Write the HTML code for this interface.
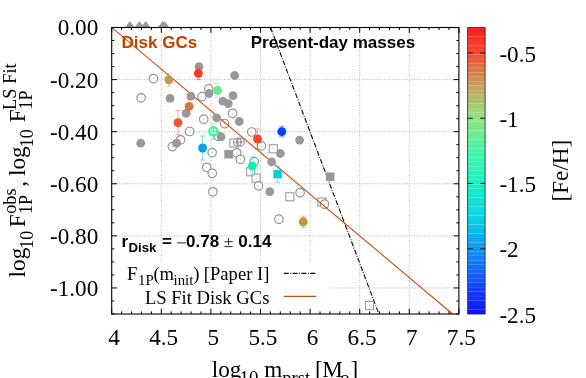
<!DOCTYPE html>
<html><head><meta charset="utf-8"><title>plot</title>
<style>html,body{margin:0;padding:0;background:#fff;overflow:hidden}svg{display:block;will-change:transform}</style>
</head><body>
<svg width="586" height="378" viewBox="0 0 586 378">
<rect x="0" y="0" width="586" height="378" fill="#ffffff"/>
<path d="M161.30 27.5 V314.0 M210.90 27.5 V314.0 M260.50 27.5 V314.0 M310.10 27.5 V314.0 M359.70 27.5 V314.0 M409.30 27.5 V314.0 M111.7 79.59 H458.9 M111.7 131.68 H458.9 M111.7 183.77 H458.9 M111.7 235.86 H458.9 M111.7 287.95 H458.9" stroke="#a6a6a6" stroke-width="0.9" stroke-dasharray="0.9 1.6" fill="none"/>
<rect x="112.3" y="262.4" width="217.1" height="51.1" fill="#fff"/>
<path d="M270.6 27.5 L378.9 314.0" stroke="#111" stroke-width="1.15" stroke-dasharray="5 1.5 0.9 1.4" fill="none"/>
<rect x="224.3" y="149.9" width="8.6" height="8.6" fill="#999999"/>
<rect x="325.8" y="172.4" width="8.6" height="8.6" fill="#999999"/>
<rect x="229.85" y="139.05" width="8.1" height="8.1" fill="#fff" stroke="#939393" stroke-width="1.0"/>
<circle cx="233.9" cy="143.1" r="0.5" fill="#999"/>
<rect x="269.25" y="144.75" width="8.1" height="8.1" fill="#fff" stroke="#939393" stroke-width="1.0"/>
<circle cx="273.3" cy="148.8" r="0.5" fill="#999"/>
<rect x="246.65" y="167.75" width="8.1" height="8.1" fill="#fff" stroke="#939393" stroke-width="1.0"/>
<circle cx="250.7" cy="171.8" r="0.5" fill="#999"/>
<rect x="252.05" y="174.15" width="8.1" height="8.1" fill="#fff" stroke="#939393" stroke-width="1.0"/>
<circle cx="256.1" cy="178.2" r="0.5" fill="#999"/>
<rect x="285.85" y="192.75" width="8.1" height="8.1" fill="#fff" stroke="#939393" stroke-width="1.0"/>
<circle cx="289.9" cy="196.8" r="0.5" fill="#999"/>
<rect x="317.85" y="197.95" width="8.1" height="8.1" fill="#fff" stroke="#939393" stroke-width="1.0"/>
<circle cx="321.9" cy="202.0" r="0.5" fill="#999"/>
<rect x="365.35" y="301.55" width="8.1" height="8.1" fill="#fff" stroke="#939393" stroke-width="1.0"/>
<circle cx="369.4" cy="305.6" r="0.5" fill="#999"/>
<circle cx="153.4" cy="78.6" r="4.25" fill="#fff" stroke="#939393" stroke-width="1.2"/>
<circle cx="153.4" cy="78.6" r="0.5" fill="#999"/>
<circle cx="141.1" cy="97.8" r="4.25" fill="#fff" stroke="#939393" stroke-width="1.2"/>
<circle cx="141.1" cy="97.8" r="0.5" fill="#999"/>
<circle cx="202.0" cy="96.6" r="4.25" fill="#fff" stroke="#939393" stroke-width="1.2"/>
<circle cx="202.0" cy="96.6" r="0.5" fill="#999"/>
<circle cx="203.7" cy="119.2" r="4.25" fill="#fff" stroke="#939393" stroke-width="1.2"/>
<circle cx="203.7" cy="119.2" r="0.5" fill="#999"/>
<circle cx="189.7" cy="131.5" r="4.25" fill="#fff" stroke="#939393" stroke-width="1.2"/>
<circle cx="189.7" cy="131.5" r="0.5" fill="#999"/>
<circle cx="208.7" cy="88.9" r="4.25" fill="#fff" stroke="#939393" stroke-width="1.2"/>
<circle cx="208.7" cy="88.9" r="0.5" fill="#999"/>
<circle cx="232.6" cy="113.3" r="4.25" fill="#fff" stroke="#939393" stroke-width="1.2"/>
<circle cx="232.6" cy="113.3" r="0.5" fill="#999"/>
<circle cx="224.6" cy="123.7" r="4.25" fill="#fff" stroke="#939393" stroke-width="1.2"/>
<circle cx="224.6" cy="123.7" r="0.5" fill="#999"/>
<circle cx="180.6" cy="139.8" r="4.25" fill="#fff" stroke="#939393" stroke-width="1.2"/>
<circle cx="180.6" cy="139.8" r="0.5" fill="#999"/>
<circle cx="172.4" cy="146.6" r="4.25" fill="#fff" stroke="#939393" stroke-width="1.2"/>
<circle cx="172.4" cy="146.6" r="0.5" fill="#999"/>
<circle cx="218.2" cy="136.3" r="4.25" fill="#fff" stroke="#939393" stroke-width="1.2"/>
<circle cx="218.2" cy="136.3" r="0.5" fill="#999"/>
<circle cx="251.7" cy="132.0" r="4.25" fill="#fff" stroke="#939393" stroke-width="1.2"/>
<circle cx="251.7" cy="132.0" r="0.5" fill="#999"/>
<circle cx="261.4" cy="145.9" r="4.25" fill="#fff" stroke="#939393" stroke-width="1.2"/>
<circle cx="261.4" cy="145.9" r="0.5" fill="#999"/>
<circle cx="212.2" cy="152.6" r="4.25" fill="#fff" stroke="#939393" stroke-width="1.2"/>
<circle cx="212.2" cy="152.6" r="0.5" fill="#999"/>
<circle cx="236.7" cy="152.8" r="4.25" fill="#fff" stroke="#939393" stroke-width="1.2"/>
<circle cx="236.7" cy="152.8" r="0.5" fill="#999"/>
<circle cx="240.4" cy="159.3" r="4.25" fill="#fff" stroke="#939393" stroke-width="1.2"/>
<circle cx="240.4" cy="159.3" r="0.5" fill="#999"/>
<circle cx="254.2" cy="161.7" r="4.25" fill="#fff" stroke="#939393" stroke-width="1.2"/>
<circle cx="254.2" cy="161.7" r="0.5" fill="#999"/>
<circle cx="206.7" cy="167.3" r="4.25" fill="#fff" stroke="#939393" stroke-width="1.2"/>
<circle cx="206.7" cy="167.3" r="0.5" fill="#999"/>
<circle cx="212.3" cy="173.3" r="4.25" fill="#fff" stroke="#939393" stroke-width="1.2"/>
<circle cx="212.3" cy="173.3" r="0.5" fill="#999"/>
<circle cx="258.6" cy="185.8" r="4.25" fill="#fff" stroke="#939393" stroke-width="1.2"/>
<circle cx="258.6" cy="185.8" r="0.5" fill="#999"/>
<circle cx="212.9" cy="191.8" r="4.25" fill="#fff" stroke="#939393" stroke-width="1.2"/>
<circle cx="212.9" cy="191.8" r="0.5" fill="#999"/>
<circle cx="300.1" cy="192.7" r="4.25" fill="#fff" stroke="#939393" stroke-width="1.2"/>
<circle cx="300.1" cy="192.7" r="0.5" fill="#999"/>
<circle cx="324.5" cy="204.2" r="4.25" fill="#fff" stroke="#939393" stroke-width="1.2"/>
<circle cx="324.5" cy="204.2" r="0.5" fill="#999"/>
<circle cx="278.9" cy="219.2" r="4.25" fill="#fff" stroke="#939393" stroke-width="1.2"/>
<circle cx="278.9" cy="219.2" r="0.5" fill="#999"/>
<circle cx="237.4" cy="142.1" r="4.0" fill="none" stroke="#999999" stroke-width="1.1"/>
<circle cx="240.4" cy="142.1" r="4.0" fill="none" stroke="#999999" stroke-width="1.1"/>
<path d="M233.2 142.1 H244.6 M237.4 138 V146.2 M240.4 138 V146.2" stroke="#999999" stroke-width="0.9"/>
<path d="M112.0 27.7 L452.6 314.0" stroke="#c8500f" stroke-width="1.1" fill="none"/>
<circle cx="199.0" cy="66.7" r="4.4" fill="#999999"/>
<circle cx="170.1" cy="98.4" r="4.4" fill="#999999"/>
<circle cx="190.9" cy="96.1" r="4.4" fill="#999999"/>
<circle cx="186.1" cy="113.3" r="4.4" fill="#999999"/>
<circle cx="234.7" cy="75.5" r="4.4" fill="#999999"/>
<circle cx="209.1" cy="93.5" r="4.4" fill="#999999"/>
<circle cx="233.0" cy="95.7" r="4.4" fill="#999999"/>
<circle cx="222.8" cy="101.2" r="4.4" fill="#999999"/>
<circle cx="228.2" cy="103.6" r="4.4" fill="#999999"/>
<circle cx="216.7" cy="117.8" r="4.4" fill="#999999"/>
<circle cx="239.3" cy="121.5" r="4.4" fill="#999999"/>
<circle cx="140.7" cy="143.2" r="4.4" fill="#999999"/>
<circle cx="176.6" cy="143.2" r="4.4" fill="#999999"/>
<circle cx="221.1" cy="136.8" r="4.4" fill="#999999"/>
<circle cx="280.4" cy="153.5" r="4.4" fill="#999999"/>
<circle cx="271.6" cy="161.8" r="4.4" fill="#999999"/>
<circle cx="269.8" cy="191.7" r="4.4" fill="#999999"/>
<circle cx="299.6" cy="140.1" r="4.4" fill="#999999"/>
<path d="M125.0 27.5 L129.9 20.9 L134.8 27.5 Z" fill="#999999"/>
<path d="M134.5 27.5 L139.4 20.9 L144.3 27.5 Z" fill="#999999"/>
<path d="M140.8 27.5 L145.7 20.9 L150.6 27.5 Z" fill="#999999"/>
<path d="M157.7 27.5 L162.6 20.9 L167.5 27.5 Z" fill="#999999"/>
<path d="M159.7 27.5 L164.6 20.9 L169.5 27.5 Z" fill="#999999"/>
<path d="M168.9 73.5 V86.1 M166.20000000000002 73.5 H171.6 M166.20000000000002 86.1 H171.6" stroke="#c2994f" stroke-width="0.9" fill="none" opacity="0.55"/>
<circle cx="168.9" cy="79.8" r="4.45" fill="#c2994f"/>
<path d="M198.3 67.0 V79.6 M195.60000000000002 67.0 H201.0 M195.60000000000002 79.6 H201.0" stroke="#ff3a22" stroke-width="0.9" fill="none" opacity="0.55"/>
<circle cx="198.3" cy="73.3" r="4.45" fill="#ff3a22"/>
<path d="M217.5 83.4 V97.4 M214.8 83.4 H220.2 M214.8 97.4 H220.2" stroke="#66ea86" stroke-width="0.9" fill="none" opacity="0.55"/>
<circle cx="217.5" cy="90.4" r="4.45" fill="#66ea86"/>
<path d="M189.2 98.9 V113.9 M186.5 98.9 H191.89999999999998 M186.5 113.9 H191.89999999999998" stroke="#d9783c" stroke-width="0.9" fill="none" opacity="0.55"/>
<circle cx="189.2" cy="106.4" r="4.45" fill="#d9783c"/>
<path d="M178.0 110.7 V134.7 M175.3 110.7 H180.7 M175.3 134.7 H180.7" stroke="#f0562e" stroke-width="0.9" fill="none" opacity="0.55"/>
<circle cx="178.0" cy="122.7" r="4.45" fill="#f0562e"/>
<path d="M213.4 123.30000000000001 V139.3 M210.70000000000002 123.30000000000001 H216.1 M210.70000000000002 139.3 H216.1" stroke="#3df5a4" stroke-width="0.9" fill="none" opacity="0.55"/>
<circle cx="213.4" cy="131.3" r="4.2" fill="#d4fbe8" stroke="#3df5a4" stroke-width="2.3"/>
<path d="M209.0 131.3 H217.8 M213.4 126.9 V135.70000000000002" stroke="#3df5a4" stroke-width="1.0"/>
<path d="M202.6 136.0 V160.0 M199.9 136.0 H205.29999999999998 M199.9 160.0 H205.29999999999998" stroke="#04a3ee" stroke-width="0.9" fill="none" opacity="0.55"/>
<circle cx="202.6" cy="148.0" r="4.45" fill="#04a3ee"/>
<path d="M257.5 129.0 V149.0 M254.8 129.0 H260.2 M254.8 149.0 H260.2" stroke="#ff4422" stroke-width="0.9" fill="none" opacity="0.55"/>
<circle cx="257.5" cy="139.0" r="4.45" fill="#ff4422"/>
<path d="M281.8 126.3 V136.9 M279.1 126.3 H284.5 M279.1 136.9 H284.5" stroke="#0540ff" stroke-width="0.9" fill="none" opacity="0.55"/>
<circle cx="281.8" cy="131.6" r="4.45" fill="#0540ff"/>
<path d="M252.3 156.9 V175.29999999999998 M249.60000000000002 156.9 H255.0 M249.60000000000002 175.29999999999998 H255.0" stroke="#0df0c2" stroke-width="0.9" fill="none" opacity="0.55"/>
<circle cx="252.3" cy="166.1" r="4.45" fill="#0df0c2"/>
<path d="M277.6 166.0 V182.2 M274.90000000000003 166.0 H280.3 M274.90000000000003 182.2 H280.3" stroke="#06d0de" stroke-width="0.9" fill="none" opacity="0.55"/>
<rect x="273.3" y="169.79999999999998" width="8.6" height="8.6" fill="#06d0de"/>
<path d="M303.2 216.20000000000002 V227.4 M300.5 216.20000000000002 H305.9 M300.5 227.4 H305.9" stroke="#c2943f" stroke-width="0.9" fill="none" opacity="0.55"/>
<circle cx="303.2" cy="221.8" r="4.45" fill="#c2943f"/>
<rect x="111.7" y="27.5" width="347.2" height="286.5" fill="none" stroke="#000" stroke-width="1.1"/>
<path d="M111.70 314.0 v-5.3 M111.70 27.5 v5.3 M121.62 314.0 v-2.6 M121.62 27.5 v2.6 M131.54 314.0 v-2.6 M131.54 27.5 v2.6 M141.46 314.0 v-2.6 M141.46 27.5 v2.6 M151.38 314.0 v-2.6 M151.38 27.5 v2.6 M161.30 314.0 v-5.3 M161.30 27.5 v5.3 M171.22 314.0 v-2.6 M171.22 27.5 v2.6 M181.14 314.0 v-2.6 M181.14 27.5 v2.6 M191.06 314.0 v-2.6 M191.06 27.5 v2.6 M200.98 314.0 v-2.6 M200.98 27.5 v2.6 M210.90 314.0 v-5.3 M210.90 27.5 v5.3 M220.82 314.0 v-2.6 M220.82 27.5 v2.6 M230.74 314.0 v-2.6 M230.74 27.5 v2.6 M240.66 314.0 v-2.6 M240.66 27.5 v2.6 M250.58 314.0 v-2.6 M250.58 27.5 v2.6 M260.50 314.0 v-5.3 M260.50 27.5 v5.3 M270.42 314.0 v-2.6 M270.42 27.5 v2.6 M280.34 314.0 v-2.6 M280.34 27.5 v2.6 M290.26 314.0 v-2.6 M290.26 27.5 v2.6 M300.18 314.0 v-2.6 M300.18 27.5 v2.6 M310.10 314.0 v-5.3 M310.10 27.5 v5.3 M320.02 314.0 v-2.6 M320.02 27.5 v2.6 M329.94 314.0 v-2.6 M329.94 27.5 v2.6 M339.86 314.0 v-2.6 M339.86 27.5 v2.6 M349.78 314.0 v-2.6 M349.78 27.5 v2.6 M359.70 314.0 v-5.3 M359.70 27.5 v5.3 M369.62 314.0 v-2.6 M369.62 27.5 v2.6 M379.54 314.0 v-2.6 M379.54 27.5 v2.6 M389.46 314.0 v-2.6 M389.46 27.5 v2.6 M399.38 314.0 v-2.6 M399.38 27.5 v2.6 M409.30 314.0 v-5.3 M409.30 27.5 v5.3 M419.22 314.0 v-2.6 M419.22 27.5 v2.6 M429.14 314.0 v-2.6 M429.14 27.5 v2.6 M439.06 314.0 v-2.6 M439.06 27.5 v2.6 M448.98 314.0 v-2.6 M448.98 27.5 v2.6 M458.90 314.0 v-5.3 M458.90 27.5 v5.3 M111.7 27.50 h5.3 M458.9 27.50 h-5.3 M111.7 40.52 h2.6 M458.9 40.52 h-2.6 M111.7 53.55 h2.6 M458.9 53.55 h-2.6 M111.7 66.57 h2.6 M458.9 66.57 h-2.6 M111.7 79.59 h5.3 M458.9 79.59 h-5.3 M111.7 92.61 h2.6 M458.9 92.61 h-2.6 M111.7 105.64 h2.6 M458.9 105.64 h-2.6 M111.7 118.66 h2.6 M458.9 118.66 h-2.6 M111.7 131.68 h5.3 M458.9 131.68 h-5.3 M111.7 144.70 h2.6 M458.9 144.70 h-2.6 M111.7 157.73 h2.6 M458.9 157.73 h-2.6 M111.7 170.75 h2.6 M458.9 170.75 h-2.6 M111.7 183.77 h5.3 M458.9 183.77 h-5.3 M111.7 196.80 h2.6 M458.9 196.80 h-2.6 M111.7 209.82 h2.6 M458.9 209.82 h-2.6 M111.7 222.84 h2.6 M458.9 222.84 h-2.6 M111.7 235.86 h5.3 M458.9 235.86 h-5.3 M111.7 248.89 h2.6 M458.9 248.89 h-2.6 M111.7 261.91 h2.6 M458.9 261.91 h-2.6 M111.7 274.93 h2.6 M458.9 274.93 h-2.6 M111.7 287.95 h5.3 M458.9 287.95 h-5.3 M111.7 300.98 h2.6 M458.9 300.98 h-2.6 M111.7 314.00 h2.6 M458.9 314.00 h-2.6" stroke="#000" stroke-width="1.0" fill="none"/>
<rect x="467.7" y="309.52" width="17.4" height="4.53" fill="rgb(15,19,255)"/>
<rect x="467.7" y="305.05" width="17.4" height="4.53" fill="rgb(16,28,254)"/>
<rect x="467.7" y="300.57" width="17.4" height="4.53" fill="rgb(17,37,253)"/>
<rect x="467.7" y="296.09" width="17.4" height="4.53" fill="rgb(17,46,253)"/>
<rect x="467.7" y="291.62" width="17.4" height="4.53" fill="rgb(18,55,252)"/>
<rect x="467.7" y="287.14" width="17.4" height="4.53" fill="rgb(19,64,251)"/>
<rect x="467.7" y="282.66" width="17.4" height="4.53" fill="rgb(19,73,251)"/>
<rect x="467.7" y="278.19" width="17.4" height="4.53" fill="rgb(20,82,250)"/>
<rect x="467.7" y="273.71" width="17.4" height="4.53" fill="rgb(19,92,249)"/>
<rect x="467.7" y="269.23" width="17.4" height="4.53" fill="rgb(18,101,248)"/>
<rect x="467.7" y="264.76" width="17.4" height="4.53" fill="rgb(18,111,246)"/>
<rect x="467.7" y="260.28" width="17.4" height="4.53" fill="rgb(17,120,245)"/>
<rect x="467.7" y="255.80" width="17.4" height="4.53" fill="rgb(16,130,244)"/>
<rect x="467.7" y="251.33" width="17.4" height="4.53" fill="rgb(16,140,243)"/>
<rect x="467.7" y="246.85" width="17.4" height="4.53" fill="rgb(15,149,242)"/>
<rect x="467.7" y="242.38" width="17.4" height="4.53" fill="rgb(15,158,240)"/>
<rect x="467.7" y="237.90" width="17.4" height="4.53" fill="rgb(14,167,238)"/>
<rect x="467.7" y="233.42" width="17.4" height="4.53" fill="rgb(14,176,236)"/>
<rect x="467.7" y="228.95" width="17.4" height="4.53" fill="rgb(13,185,234)"/>
<rect x="467.7" y="224.47" width="17.4" height="4.53" fill="rgb(13,194,233)"/>
<rect x="467.7" y="219.99" width="17.4" height="4.53" fill="rgb(13,203,231)"/>
<rect x="467.7" y="215.52" width="17.4" height="4.53" fill="rgb(12,212,229)"/>
<rect x="467.7" y="211.04" width="17.4" height="4.53" fill="rgb(13,217,225)"/>
<rect x="467.7" y="206.56" width="17.4" height="4.53" fill="rgb(15,221,221)"/>
<rect x="467.7" y="202.09" width="17.4" height="4.53" fill="rgb(17,224,216)"/>
<rect x="467.7" y="197.61" width="17.4" height="4.53" fill="rgb(18,227,212)"/>
<rect x="467.7" y="193.13" width="17.4" height="4.53" fill="rgb(20,231,207)"/>
<rect x="467.7" y="188.66" width="17.4" height="4.53" fill="rgb(22,234,203)"/>
<rect x="467.7" y="184.18" width="17.4" height="4.53" fill="rgb(24,238,198)"/>
<rect x="467.7" y="179.70" width="17.4" height="4.53" fill="rgb(27,240,194)"/>
<rect x="467.7" y="175.23" width="17.4" height="4.53" fill="rgb(33,241,190)"/>
<rect x="467.7" y="170.75" width="17.4" height="4.53" fill="rgb(39,242,186)"/>
<rect x="467.7" y="166.27" width="17.4" height="4.53" fill="rgb(46,242,183)"/>
<rect x="467.7" y="161.80" width="17.4" height="4.53" fill="rgb(52,243,179)"/>
<rect x="467.7" y="157.32" width="17.4" height="4.53" fill="rgb(58,244,175)"/>
<rect x="467.7" y="152.84" width="17.4" height="4.53" fill="rgb(64,244,172)"/>
<rect x="467.7" y="148.37" width="17.4" height="4.53" fill="rgb(71,245,168)"/>
<rect x="467.7" y="143.89" width="17.4" height="4.53" fill="rgb(81,243,163)"/>
<rect x="467.7" y="139.41" width="17.4" height="4.53" fill="rgb(91,240,157)"/>
<rect x="467.7" y="134.94" width="17.4" height="4.53" fill="rgb(101,238,152)"/>
<rect x="467.7" y="130.46" width="17.4" height="4.53" fill="rgb(112,236,147)"/>
<rect x="467.7" y="125.98" width="17.4" height="4.53" fill="rgb(122,233,142)"/>
<rect x="467.7" y="121.51" width="17.4" height="4.53" fill="rgb(132,231,136)"/>
<rect x="467.7" y="117.03" width="17.4" height="4.53" fill="rgb(143,229,131)"/>
<rect x="467.7" y="112.55" width="17.4" height="4.53" fill="rgb(151,221,126)"/>
<rect x="467.7" y="108.08" width="17.4" height="4.53" fill="rgb(158,212,122)"/>
<rect x="467.7" y="103.60" width="17.4" height="4.53" fill="rgb(165,202,117)"/>
<rect x="467.7" y="99.12" width="17.4" height="4.53" fill="rgb(172,193,112)"/>
<rect x="467.7" y="94.65" width="17.4" height="4.53" fill="rgb(180,184,107)"/>
<rect x="467.7" y="90.17" width="17.4" height="4.53" fill="rgb(187,174,102)"/>
<rect x="467.7" y="85.70" width="17.4" height="4.53" fill="rgb(194,165,98)"/>
<rect x="467.7" y="81.22" width="17.4" height="4.53" fill="rgb(201,154,92)"/>
<rect x="467.7" y="76.74" width="17.4" height="4.53" fill="rgb(208,143,86)"/>
<rect x="467.7" y="72.27" width="17.4" height="4.53" fill="rgb(214,131,80)"/>
<rect x="467.7" y="67.79" width="17.4" height="4.53" fill="rgb(220,119,74)"/>
<rect x="467.7" y="63.31" width="17.4" height="4.53" fill="rgb(227,108,67)"/>
<rect x="467.7" y="58.84" width="17.4" height="4.53" fill="rgb(233,96,61)"/>
<rect x="467.7" y="54.36" width="17.4" height="4.53" fill="rgb(240,84,55)"/>
<rect x="467.7" y="49.88" width="17.4" height="4.53" fill="rgb(245,73,49)"/>
<rect x="467.7" y="45.41" width="17.4" height="4.53" fill="rgb(247,65,45)"/>
<rect x="467.7" y="40.93" width="17.4" height="4.53" fill="rgb(249,57,41)"/>
<rect x="467.7" y="36.45" width="17.4" height="4.53" fill="rgb(251,49,37)"/>
<rect x="467.7" y="31.98" width="17.4" height="4.53" fill="rgb(252,40,32)"/>
<rect x="467.7" y="27.50" width="17.4" height="4.53" fill="rgb(254,32,28)"/>
<rect x="467.7" y="27.5" width="17.4" height="286.5" fill="none" stroke="#222" stroke-width="0.8"/>
<path d="M467.7 52.95 h5 M485.1 52.95 h-5 M467.7 118.21 h5 M485.1 118.21 h-5 M467.7 183.48 h5 M485.1 183.48 h-5 M467.7 248.74 h5 M485.1 248.74 h-5" stroke="#000" stroke-width="0.9" fill="none"/>
<text x="98.3" y="35.4" font-family="Liberation Serif, serif" font-size="23.2" text-anchor="end" fill="#000">0.00</text>
<text x="98.3" y="87.5" font-family="Liberation Serif, serif" font-size="23.2" text-anchor="end" fill="#000">-0.20</text>
<text x="98.3" y="139.6" font-family="Liberation Serif, serif" font-size="23.2" text-anchor="end" fill="#000">-0.40</text>
<text x="98.3" y="191.7" font-family="Liberation Serif, serif" font-size="23.2" text-anchor="end" fill="#000">-0.60</text>
<text x="98.3" y="243.8" font-family="Liberation Serif, serif" font-size="23.2" text-anchor="end" fill="#000">-0.80</text>
<text x="98.3" y="295.9" font-family="Liberation Serif, serif" font-size="23.2" text-anchor="end" fill="#000">-1.00</text>
<text x="114.1" y="344.6" font-family="Liberation Serif, serif" font-size="23.2" text-anchor="middle" fill="#000">4</text>
<text x="163.7" y="344.6" font-family="Liberation Serif, serif" font-size="23.2" text-anchor="middle" fill="#000">4.5</text>
<text x="213.3" y="344.6" font-family="Liberation Serif, serif" font-size="23.2" text-anchor="middle" fill="#000">5</text>
<text x="262.9" y="344.6" font-family="Liberation Serif, serif" font-size="23.2" text-anchor="middle" fill="#000">5.5</text>
<text x="312.5" y="344.6" font-family="Liberation Serif, serif" font-size="23.2" text-anchor="middle" fill="#000">6</text>
<text x="362.1" y="344.6" font-family="Liberation Serif, serif" font-size="23.2" text-anchor="middle" fill="#000">6.5</text>
<text x="411.7" y="344.6" font-family="Liberation Serif, serif" font-size="23.2" text-anchor="middle" fill="#000">7</text>
<text x="461.3" y="344.6" font-family="Liberation Serif, serif" font-size="23.2" text-anchor="middle" fill="#000">7.5</text>
<text x="499.4" y="61.5" font-family="Liberation Serif, serif" font-size="23.2" text-anchor="start" fill="#000">-0.5</text>
<text x="499.4" y="126.7" font-family="Liberation Serif, serif" font-size="23.2" text-anchor="start" fill="#000">-1</text>
<text x="499.4" y="192.0" font-family="Liberation Serif, serif" font-size="23.2" text-anchor="start" fill="#000">-1.5</text>
<text x="499.4" y="257.2" font-family="Liberation Serif, serif" font-size="23.2" text-anchor="start" fill="#000">-2</text>
<text x="499.4" y="322.5" font-family="Liberation Serif, serif" font-size="23.2" text-anchor="start" fill="#000">-2.5</text>
<text transform="translate(568.0 170.6) rotate(-90)" font-family="Liberation Serif, serif" font-size="23.2" text-anchor="middle" fill="#000">[Fe/H]</text>
<g font-family="Liberation Serif, serif" fill="#000" font-size="23.2">
<text x="211.7" y="377.0">log</text>
<text x="239.5" y="384.0" font-size="18.8">10</text>
<text x="264.2" y="377.0">m</text>
<text x="282.2" y="384.0" font-size="18.6">prst</text>
<text x="315.0" y="377.0">[</text>
<text x="322.2" y="377.0">M</text>
<text x="340.2" y="384.0" font-size="18.8">o</text>
<text x="350.4" y="377.0">]</text>
</g>
<g transform="translate(25 277.4) rotate(-90)" font-family="Liberation Serif, serif" fill="#000">
<text x="0" y="0" font-size="23.2">log</text>
<text x="28.7" y="8.3" font-size="18">10</text>
<text x="50.2" y="0" font-size="23.2">F</text>
<text x="63.6" y="-9.3" font-size="18.2">obs</text>
<text x="63.4" y="6.7" font-size="18">1P</text>
<text x="90.6" y="0" font-size="23.2">,</text>
<text x="101.4" y="0" font-size="23.2">log</text>
<text x="130.1" y="8.3" font-size="18">10</text>
<text x="155.2" y="0" font-size="23.2">F</text>
<text x="167.5" y="-9.3" font-size="18.4">LS Fit</text>
<text x="168.0" y="6.7" font-size="18">1P</text>
</g>
<text x="121.6" y="47.7" font-family="Liberation Sans, sans-serif" font-weight="bold" font-size="17" fill="#c04000">Disk GCs</text>
<text x="250.7" y="47.7" font-family="Liberation Sans, sans-serif" font-weight="bold" font-size="17" fill="#000">Present-day masses</text>
<g font-family="Liberation Sans, sans-serif" font-weight="bold" fill="#000" font-size="17">
<text x="121.6" y="247.3">r</text>
<text x="128.6" y="252.1" font-size="13.2">Disk</text>
<text x="162.1" y="247.3">=</text>
<text x="186.0" y="247.3">0.78</text>
<text x="238.3" y="247.3">0.14</text>
</g>
<path d="M177.2 242.9 H186.1 M224.4 241.7 H232.7 M228.55 237.9 V245.2 M224.4 246.6 H232.7" stroke="#111" stroke-width="0.9" fill="none"/>
<g font-family="Liberation Serif, serif" fill="#000" font-size="18.6">
<text x="126.9" y="279.8">F</text>
<text x="138.0" y="285.2" font-size="14.8">1P</text>
<text x="153.4" y="279.8">(m</text>
<text x="173.6" y="285.2" font-size="14.8">init</text>
<text x="193.3" y="279.8">)</text>
<text x="269.4" y="279.8" text-anchor="end">[Paper I]</text>
<text x="269.4" y="304.1" text-anchor="end">LS Fit Disk GCs</text>
</g>
<path d="M283.8 273.3 H316.2" stroke="#111" stroke-width="1.15" stroke-dasharray="5 1.5 0.9 1.4" fill="none"/>
<path d="M283.8 296.4 H316.2" stroke="#c8500f" stroke-width="1.15" fill="none"/>
</svg>
</body></html>
